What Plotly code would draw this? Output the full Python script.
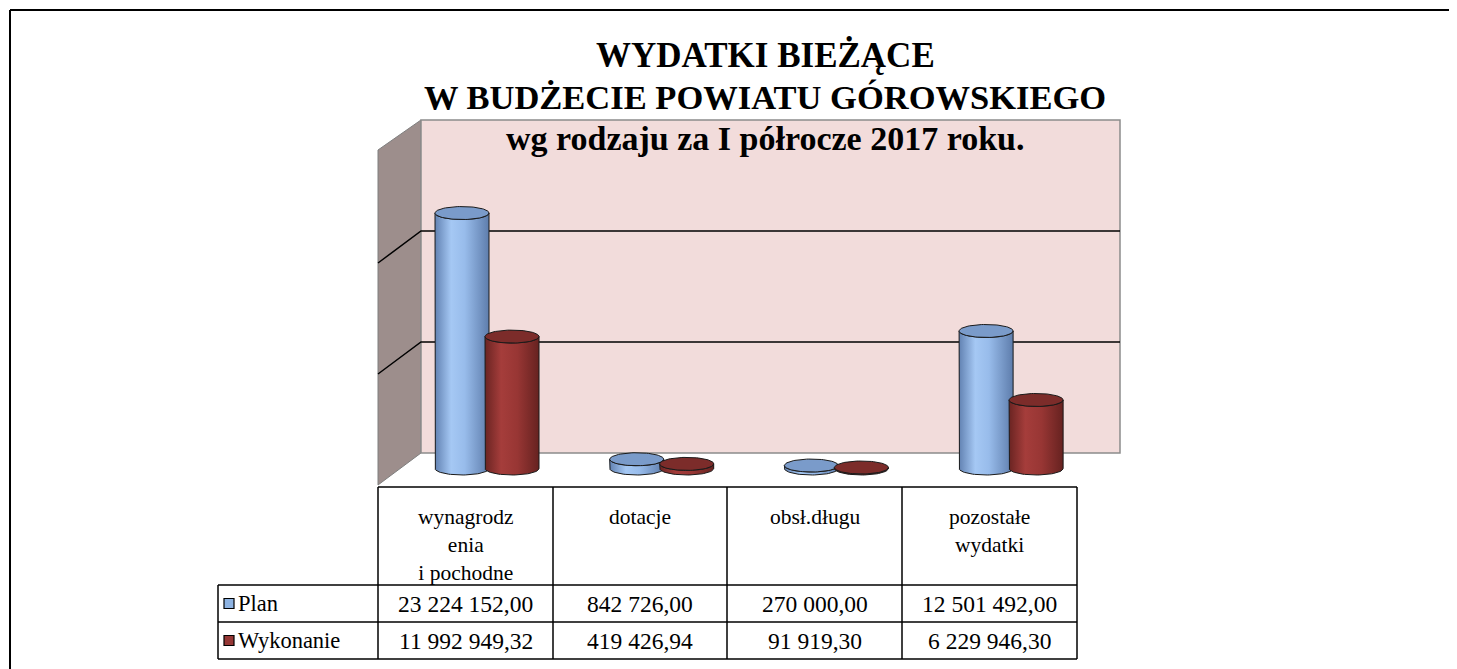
import numpy as np
import plotly.graph_objects as go

# ---------------- data ----------------
categories = ["wynagrodz<br>enia<br>i pochodne", "dotacje", "obsł.długu", "pozostałe<br>wydatki"]
series_names = ["Plan", "Wykonanie"]
plan = [23224152.00, 842726.00, 270000.00, 12501492.00]
wykonanie = [11992949.32, 419426.94, 91919.30, 6229946.30]
grid_values = [10_000_000, 20_000_000, 30_000_000]
title_lines = ["WYDATKI BIEŻĄCE", "W BUDŻECIE POWIATU GÓROWSKIEGO", "wg rodzaju za I półrocze 2017 roku."]

# ---------------- geometry (window pixels) ----------------
PAGE = 8                              # default body margin of the html page
WIN_W, WIN_H = 1457, 669
W, H = WIN_W - PAGE, WIN_H - PAGE     # figure size
PAIR_X0, STEP = 487.0, 174.7          # window x of first category centre, category spacing
BASE_Y, PPU = 468.5, 11.0e-6          # window y of cylinder base, pixels per unit value
BAR_PX, OFF_PX, CAP_PX = 54.0, 25.0, 6.5
WALL_BASE, WALL_PPU = 453.0, 11.1e-6  # back wall scale
DX3, DY3 = 43.0, 32.0                 # depth offset of the back wall

def px(x):
    return (x - PAGE) / W

def py(y):
    return 1 - (y - PAGE) / H

FONT = "Liberation Serif"
blue_swatch, red_swatch = "#8DB3E2", "#953735"
styles = [
    dict(scale=[[0, "#6282B2"], [0.3, "#A5C8F4"], [0.55, "#98BCEB"], [1, "#5E7DAC"]], top="#7A9BCA", swatch=blue_swatch),
    dict(scale=[[0, "#6A2422"], [0.3, "#A53D3B"], [0.6, "#983634"], [1, "#662220"]], top="#7C2C2A", swatch=red_swatch),
]

fig = go.Figure()

xr = [(PAGE - PAIR_X0) / STEP, (WIN_W - PAIR_X0) / STEP]
yr = [(BASE_Y - WIN_H) / PPU, (BASE_Y - PAGE) / PPU]
a = (BAR_PX / 2) / STEP
b = CAP_PX / PPU
offs = [-OFF_PX / STEP, OFF_PX / STEP]

series = [plan, wykonanie]
# bars (data marks)
for s, vals in enumerate(series):
    fig.add_trace(go.Bar(
        x=[i + offs[s] for i in range(len(categories))], y=vals, width=2 * a,
        marker=dict(color=styles[s]["swatch"], line=dict(width=0)),
        name=series_names[s], showlegend=False, hoverinfo="skip"))

# cylinder shading and caps
t_low = np.linspace(np.pi, 2 * np.pi, 40)
t_full = np.linspace(0, 2 * np.pi, 80)
for i in range(len(categories)):
    for s, vals in enumerate(series):
        v = vals[i]
        cx = i + offs[s]
        bx = list(cx + a * np.cos(t_low))
        by = list(b * np.sin(t_low))
        tx = list(cx + a * np.cos(t_low[::-1]))
        ty = list(v + b * np.sin(t_low[::-1]))
        xs = [cx - a] + bx + [cx + a] + tx
        ys = [v] + by + [v] + ty
        fig.add_trace(go.Scatter(
            x=xs, y=ys, mode="lines", fill="toself",
            fillgradient=dict(type="horizontal", colorscale=styles[s]["scale"], start=cx - a, stop=cx + a),
            line=dict(color="#1a1a1a", width=1), showlegend=False, hoverinfo="skip"))
        fig.add_trace(go.Scatter(
            x=list(cx + a * np.cos(t_full)), y=list(v + b * np.sin(t_full)),
            mode="lines", fill="toself", fillcolor=styles[s]["top"],
            line=dict(color="#1a1a1a", width=1), showlegend=False, hoverinfo="skip"))

shapes = []
# page border
shapes.append(dict(type="line", xref="paper", yref="paper", x0=px(10), x1=px(WIN_W), y0=py(10), y1=py(10),
                   line=dict(color="black", width=2)))
shapes.append(dict(type="line", xref="paper", yref="paper", x0=px(10), x1=px(10), y0=py(10), y1=py(WIN_H),
                   line=dict(color="black", width=2)))

wall_left, wall_right = 378.0 + DX3, 1077.0 + DX3
wall_top = WALL_BASE - max(grid_values) * WALL_PPU

def path(pts, close=True):
    return "M " + " L ".join(f"{px(x):.5f},{py(y):.5f}" for x, y in pts) + (" Z" if close else "")

# side wall
shapes.append(dict(type="path", xref="paper", yref="paper", layer="below",
                   path=path([(wall_left - DX3, wall_top + DY3 - 2), (wall_left, wall_top),
                              (wall_left, WALL_BASE), (wall_left - DX3, WALL_BASE + DY3)]),
                   fillcolor="#9D8E8C", line=dict(color="#7f7f7f", width=1)))
# back wall
shapes.append(dict(type="rect", xref="paper", yref="paper", layer="below",
                   x0=px(wall_left), x1=px(wall_right), y0=py(wall_top), y1=py(WALL_BASE),
                   fillcolor="#F2DCDB", line=dict(color="#8c8c8c", width=1.5)))
# gridlines
for g in grid_values[:-1]:
    yy = WALL_BASE - g * WALL_PPU
    shapes.append(dict(type="path", xref="paper", yref="paper", layer="below",
                       path=path([(wall_left - DX3, yy + DY3), (wall_left, yy), (wall_right, yy)], close=False),
                       line=dict(color="black", width=1.5)))

# ---------------- data table ----------------
col_x = [378, 553, 727, 902, 1077]
leg_left = 218
t_top, t_head, t_r1, t_bot = 487, 585, 622, 659
lw = dict(color="black", width=1.5)
shapes.append(dict(type="line", xref="paper", yref="paper", x0=px(col_x[0]), x1=px(col_x[-1]),
                   y0=py(t_top), y1=py(t_top), line=lw))
for yy in [t_head, t_r1, t_bot]:
    shapes.append(dict(type="line", xref="paper", yref="paper", x0=px(leg_left), x1=px(col_x[-1]),
                       y0=py(yy), y1=py(yy), line=lw))
for xx in col_x:
    shapes.append(dict(type="line", xref="paper", yref="paper", x0=px(xx), x1=px(xx),
                       y0=py(t_top), y1=py(t_bot), line=lw))
shapes.append(dict(type="line", xref="paper", yref="paper", x0=px(leg_left), x1=px(leg_left),
                   y0=py(t_head), y1=py(t_bot), line=lw))

annotations = []
TFS = 23.5
for i, cat in enumerate(categories):
    cxp = (col_x[i] + col_x[i + 1]) / 2
    annotations.append(dict(xref="paper", yref="paper", x=px(cxp), y=py(503), text=cat,
                            showarrow=False, xanchor="center", yanchor="top", align="center",
                            font=dict(family=FONT, size=21.5, color="black")))

def fmt(v):
    return f"{v:,.2f}".replace(",", " ").replace(".", ",")

row_y = [(t_head + t_r1) / 2, (t_r1 + t_bot) / 2]
for s, vals in enumerate(series):
    for i, v in enumerate(vals):
        cxp = (col_x[i] + col_x[i + 1]) / 2
        annotations.append(dict(xref="paper", yref="paper", x=px(cxp), y=py(row_y[s]), text=fmt(v),
                                showarrow=False, xanchor="center", yanchor="middle",
                                font=dict(family=FONT, size=TFS, color="black")))
    # legend key
    shapes.append(dict(type="rect", xref="paper", yref="paper", x0=px(224), x1=px(234),
                       y0=py(row_y[s] - 5), y1=py(row_y[s] + 5),
                       fillcolor=styles[s]["swatch"], line=dict(color="black", width=1.2)))
    annotations.append(dict(xref="paper", yref="paper", x=px(236), y=py(row_y[s]), text=series_names[s],
                            showarrow=False, xanchor="left", yanchor="middle",
                            font=dict(family=FONT, size=22.5, color="black")))

# titles
title_y = [55, 97, 139]
title_size = [35, 34.5, 34]
for k, line in enumerate(title_lines):
    annotations.append(dict(xref="paper", yref="paper", x=px(765), y=py(title_y[k]), text=f"<b>{line}</b>",
                            showarrow=False, xanchor="center", yanchor="middle",
                            font=dict(family=FONT, size=title_size[k], color="black")))

fig.update_layout(
    width=W, height=H, margin=dict(l=0, r=0, t=0, b=0),
    paper_bgcolor="white", plot_bgcolor="rgba(0,0,0,0)",
    barmode="overlay", showlegend=False,
    xaxis=dict(range=xr, visible=False, domain=[0, 1], fixedrange=True),
    yaxis=dict(range=yr, visible=False, domain=[0, 1], fixedrange=True),
    shapes=shapes, annotations=annotations,
)

fig.write_html("out.html")
